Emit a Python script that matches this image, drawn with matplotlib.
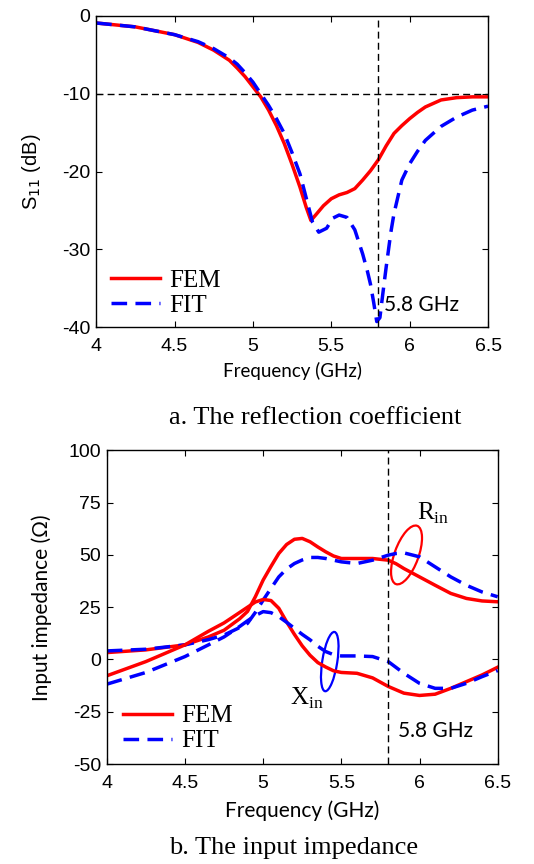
import matplotlib
matplotlib.use("Agg")
import matplotlib.pyplot as plt
from matplotlib.patches import Ellipse
from matplotlib.transforms import ScaledTranslation

plt.rcParams["axes.unicode_minus"] = False

# S11 data (GHz, dB)
f_fem_s = [4.0, 4.25, 4.5, 4.65, 4.75, 4.85, 4.9, 4.95, 5.0, 5.05, 5.1, 5.15, 5.2, 5.25,
           5.3, 5.34, 5.37, 5.4, 5.45, 5.5, 5.55, 5.6, 5.65, 5.7, 5.75, 5.8, 5.85, 5.9,
           5.95, 6.0, 6.05, 6.1, 6.2, 6.3, 6.4, 6.5]
s11_fem = [-0.9, -1.4, -2.4, -3.4, -4.4, -5.7, -6.7, -7.8, -9.1, -10.4, -12.1, -14.1,
           -16.4, -19.1, -22.0, -24.6, -26.3, -25.6, -24.4, -23.5, -23.0, -22.7, -22.2,
           -21.1, -19.9, -18.5, -16.7, -15.1, -14.1, -13.2, -12.4, -11.7, -10.8, -10.5,
           -10.4, -10.4]
f_fit_s = [4.0, 4.25, 4.5, 4.65, 4.75, 4.85, 4.9, 4.95, 5.0, 5.05, 5.1, 5.15, 5.2, 5.25,
           5.3, 5.34, 5.38, 5.42, 5.47, 5.51, 5.55, 5.6, 5.65, 5.7, 5.73, 5.75, 5.77,
           5.79, 5.81, 5.83, 5.85, 5.88, 5.9, 5.95, 6.0, 6.05, 6.1, 6.2, 6.3, 6.4, 6.5]
s11_fit = [-0.9, -1.4, -2.4, -3.3, -4.2, -5.4, -6.2, -7.3, -8.5, -10.0, -11.5, -13.2,
           -15.1, -17.6, -20.3, -23.4, -26.5, -27.8, -27.3, -26.0, -25.6, -25.9, -27.5,
           -30.6, -32.8, -34.5, -36.8, -39.3, -38.8, -35.5, -32.3, -27.8, -25.4, -21.1,
           -19.0, -17.4, -16.0, -14.2, -13.0, -12.1, -11.6]

# input impedance data (GHz, ohm)
f_z = [4.0, 4.25, 4.5, 4.65, 4.75, 4.85, 4.9, 4.95, 5.0, 5.05, 5.1, 5.15, 5.2, 5.25,
       5.3, 5.35, 5.4, 5.45, 5.5, 5.6, 5.7, 5.8, 5.85, 5.9, 6.0, 6.1, 6.2, 6.3, 6.4, 6.5]
rin_fem = [3.3, 4.6, 7.0, 10.8, 14.0, 19.5, 23.0, 30.0, 38.0, 44.5, 50.7, 55.0, 57.5,
           57.9, 56.3, 53.8, 51.5, 49.5, 48.3, 48.3, 48.3, 47.5, 45.8, 43.5, 39.5, 35.5,
           31.6, 29.2, 28.0, 27.6]
rin_fit = [4.1, 4.9, 7.0, 9.5, 11.7, 15.3, 17.3, 22.5, 28.4, 34.0, 39.5, 43.3, 45.9,
           47.6, 48.8, 48.8, 48.3, 47.5, 46.7, 45.9, 47.5, 49.9, 50.7, 51.0, 49.1, 44.3,
           39.5, 35.5, 32.3, 30.0]
f_x = [4.0, 4.25, 4.5, 4.65, 4.75, 4.85, 4.9, 4.95, 5.0, 5.05, 5.1, 5.15, 5.2, 5.25,
       5.3, 5.35, 5.4, 5.45, 5.5, 5.6, 5.7, 5.8, 5.9, 6.0, 6.1, 6.2, 6.3, 6.4, 6.5]
xin_fem = [-7.8, -1.0, 7.0, 13.5, 17.5, 22.5, 25.0, 27.5, 28.7, 28.2, 24.5, 18.0, 12.0,
           6.5, 2.0, -1.5, -3.6, -5.4, -6.2, -6.6, -8.8, -12.9, -16.1, -17.2, -16.6,
           -13.8, -10.6, -7.4, -3.7]
xin_fit = [-11.8, -6.2, 1.4, 7.0, 10.8, 15.8, 18.5, 21.0, 22.9, 22.4, 20.5, 17.8, 14.9,
           12.0, 9.4, 6.3, 3.8, 2.3, 1.7, 1.7, 1.4, -1.0, -6.6, -11.4, -13.8, -13.8,
           -11.4, -8.2, -5.3]

RED = "#ff0000"
BLUE = "#0000ff"
SANS = "Liberation Sans"
CAL = "Lato"
SERIF = "Liberation Serif"
DASH = (0, (4.5, 2.4))

fig = plt.figure(figsize=(5.34, 8.64), dpi=100)


def style(ax, yticks):
    ax.set_xlim(4, 6.5)
    ax.set_xticks([4, 4.5, 5, 5.5, 6, 6.5])
    ax.set_xticklabels(["4", "4.5", "5", "5.5", "6", "6.5"])
    ax.set_yticks(yticks)
    ax.tick_params(direction="in", top=True, right=True, length=4, width=0.8,
                   labelsize=14)
    ax.tick_params(axis="x", pad=8)
    ax.tick_params(axis="y", pad=4)
    for lab in ax.get_xticklabels() + ax.get_yticklabels():
        lab.set_family(SANS)
    for sp in ax.spines.values():
        sp.set_linewidth(1.0)


def add_legend(ax, anchor):
    return ax.legend(loc="lower left", bbox_to_anchor=anchor, frameon=False,
                     handlelength=1.95, handletextpad=0.38, labelspacing=0.1,
                     borderaxespad=0, prop={"family": SERIF, "size": 18})


# ---- a. reflection coefficient ----
ax1 = fig.add_axes([0.180, 0.6215, 0.734, 0.360])
ax1.plot(f_fem_s, s11_fem, color=RED, lw=2.5, label="FEM")
ax1.plot(f_fit_s, s11_fit, color=BLUE, lw=2.5, ls=DASH, label="FIT")
ax1.axhline(-10, color="black", lw=1.0, ls=(0, (5, 3)))
ax1.axvline(5.8, color="black", lw=1.0, ls=(0, (5, 3)))
ax1.set_ylim(-40, 0)
style(ax1, [-40, -30, -20, -10, 0])
ax1.set_xlabel("Frequency (GHz)", family=CAL, fontsize=13.5, labelpad=5)
ax1.set_ylabel("S$_{11}$ (dB)", family=SANS, fontsize=14.5, labelpad=14)
ax1.text(5.835, -37.2, "5.8 GHz", family=CAL, fontsize=15, va="center")
add_legend(ax1, (0.012, 0.0))

fig.text(0.59, 1 - 418 / 864, "a. The reflection coefficient", family=SERIF,
         fontsize=19, ha="center", va="center")

# ---- b. input impedance ----
ax2 = fig.add_axes([0.200, 0.1157, 0.732, 0.363])
ax2.plot(f_z, rin_fem, color=RED, lw=2.5, label="FEM")
ax2.plot(f_z, rin_fit, color=BLUE, lw=2.5, ls=DASH, label="FIT")
ax2.plot(f_x, xin_fem, color=RED, lw=2.5)
ax2.plot(f_x, xin_fit, color=BLUE, lw=2.5, ls=DASH)
ax2.axvline(5.8, color="black", lw=1.0, ls=(0, (5, 3)))
ax2.set_ylim(-50, 100)
style(ax2, [-50, -25, 0, 25, 50, 75, 100])
ax2.set_xlabel("Frequency (GHz)", family=CAL, fontsize=15, labelpad=6)
ax2.set_ylabel("Input impedance (\u03a9)", family=CAL, fontsize=15, labelpad=12)
ax2.text(5.86, -34, "5.8 GHz", family=CAL, fontsize=15, va="center")
add_legend(ax2, (0.017, 0.005))

# ellipses marking R_in and X_in
for (cx, cy, w, h, ang, col) in [(5.917, 50, 0.24, 0.62, -20, RED),
                                 (5.426, -1.0, 0.15, 0.60, -9, BLUE)]:
    tr = fig.dpi_scale_trans + ScaledTranslation(cx, cy, ax2.transData)
    ax2.add_patch(Ellipse((0, 0), w, h, angle=ang, transform=tr, fill=False,
                          edgecolor=col, lw=1.6))
ax2.text(5.985, 70, "R$_{\\mathregular{in}}$", family=SERIF, fontsize=18, va="center")
ax2.text(5.17, -18.5, "X$_{\\mathregular{in}}$", family=SERIF, fontsize=18, va="center")

fig.text(0.55, 1 - 848 / 864, "b. The input impedance", family=SERIF,
         fontsize=19, ha="center", va="center")

fig.savefig("out.png", dpi=100)
